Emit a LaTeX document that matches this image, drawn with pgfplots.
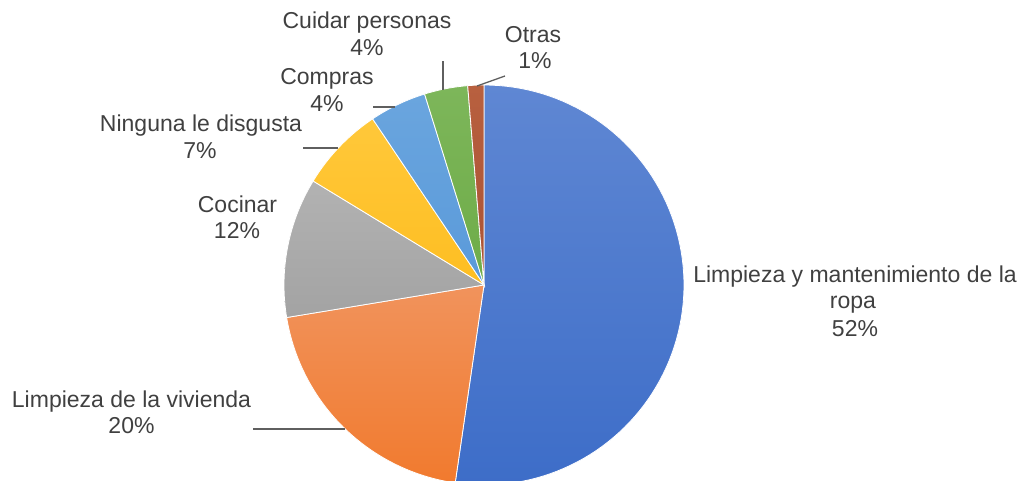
\documentclass[border=0pt]{standalone}
\usepackage{pgfplots}
\pgfplotsset{compat=1.18}
\usepackage{fontspec}
\setmainfont{Liberation Sans}
\definecolor{cBlueT}{HTML}{5F87D3}
\definecolor{cBlueB}{HTML}{3D6DC8}
\definecolor{cOrT}{HTML}{F1935C}
\definecolor{cOrB}{HTML}{F17A2E}
\definecolor{cGrT}{HTML}{B2B2B2}
\definecolor{cGrB}{HTML}{A3A3A3}
\definecolor{cYeT}{HTML}{FFC83A}
\definecolor{cYeB}{HTML}{FEBE22}
\definecolor{cLbT}{HTML}{6AA5DE}
\definecolor{cLbB}{HTML}{5A9ADA}
\definecolor{cGnT}{HTML}{7DB65A}
\definecolor{cGnB}{HTML}{6EAC48}
\definecolor{cBrT}{HTML}{B8603F}
\definecolor{cBrB}{HTML}{AA5234}
\definecolor{txt}{HTML}{404040}
\definecolor{lead}{HTML}{5F5F5F}
% #1 cumulative percentage before slice, #2 cumulative after, #3/#4 colours
\newcommand\slice[4]{%
  \addplot[top color=#3, bottom color=#4, draw=white, line width=0.8pt,
    domain={90-3.6*(#2)}:{90-3.6*(#1)}, samples=90, variable=\t]
    ({484+200*cos(\t)},{196+200*sin(\t)}) -- (axis cs:484,196) -- cycle;
}
\begin{document}
\begin{tikzpicture}[lbl/.style={font=\fontsize{23}{27.5}\selectfont, text=txt, anchor=base, inner sep=0pt}]
\begin{axis}[
  at={(0,0)}, anchor=south west,
  scale only axis, width=1020pt, height=481pt,
  xmin=0, xmax=1020, ymin=0, ymax=481,
  hide axis, clip=true,
]
% shares (percent): 52.3, 20.1, 11.3, 6.9, 4.6, 3.5, 1.3
\slice{0}{52.3}{cBlueT}{cBlueB}
\slice{52.3}{72.4}{cOrT}{cOrB}
\slice{72.4}{83.7}{cGrT}{cGrB}
\slice{83.7}{90.6}{cYeT}{cYeB}
\slice{90.6}{95.2}{cLbT}{cLbB}
\slice{95.2}{98.7}{cGnT}{cGnB}
\slice{98.7}{100}{cBrT}{cBrB}
% leader lines
\draw[lead, line width=1.3pt] (axis cs:477,395) -- (axis cs:505,405);
\draw[lead, line width=1.3pt] (axis cs:443,391) -- (axis cs:443,420);
\draw[lead, line width=1.3pt] (axis cs:373,374) -- (axis cs:395,374);
\draw[lead, line width=1.3pt] (axis cs:303,333) -- (axis cs:338,333);
\draw[lead, line width=1.3pt] (axis cs:253,52) -- (axis cs:345,52);
% labels
\node[lbl] at (axis cs:367,452) {Cuidar personas};
\node[lbl] at (axis cs:367,425) {4\%};
\node[lbl] at (axis cs:533,438.3) {Otras};
\node[lbl] at (axis cs:535,412) {1\%};
\node[lbl] at (axis cs:327,396) {Compras};
\node[lbl] at (axis cs:327,369) {4\%};
\node[lbl] at (axis cs:201,349) {Ninguna le disgusta};
\node[lbl] at (axis cs:200,322) {7\%};
\node[lbl] at (axis cs:237.5,268.3) {Cocinar};
\node[lbl] at (axis cs:237,242) {12\%};
\node[lbl] at (axis cs:131.5,73.3) {Limpieza de la vivienda};
\node[lbl] at (axis cs:131.5,47) {20\%};
\node[lbl] at (axis cs:855,198) {Limpieza y mantenimiento de la};
\node[lbl] at (axis cs:853,172) {ropa};
\node[lbl] at (axis cs:855,144.3) {52\%};
\end{axis}
\pgfresetboundingbox
\useasboundingbox (0,0) rectangle (1020pt,481pt);
\end{tikzpicture}
\end{document}
